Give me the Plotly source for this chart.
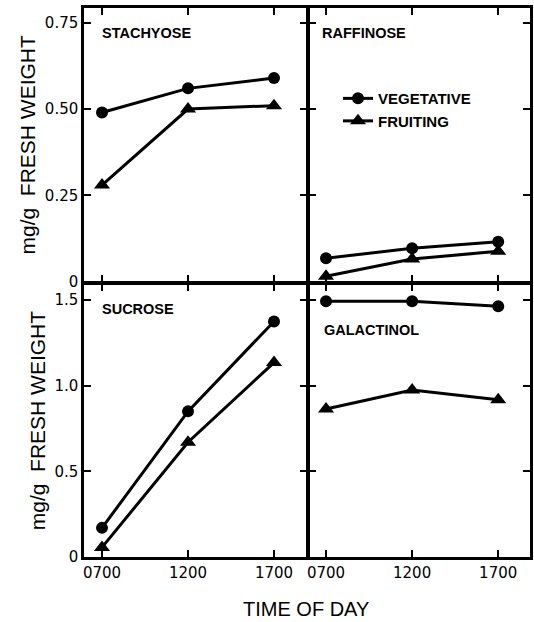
import plotly.graph_objects as go

# ---------------- data ----------------
time_hours = [7, 12, 17]
time_labels = ["0700", "1200", "1700"]

stachyose_veg = [0.49, 0.56, 0.59]
stachyose_fruit = [0.28, 0.50, 0.51]
raffinose_veg = [0.068, 0.097, 0.116]
raffinose_fruit = [0.016, 0.066, 0.088]
sucrose_veg = [0.17, 0.85, 1.375]
sucrose_fruit = [0.056, 0.67, 1.135]
galactinol_veg = [1.493, 1.493, 1.463]
galactinol_fruit = [0.864, 0.975, 0.918]

top_ticks = [0, 0.25, 0.5, 0.75]
top_ticktext = ["0", "0.25", "0.50", "0.75"]
bot_ticks = [0, 0.5, 1.0, 1.5]
bot_ticktext = ["0", "0.5", "1.0", "1.5"]

series_names = ["VEGETATIVE", "FRUITING"]
panel_names = ["STACHYOSE", "RAFFINOSE", "SUCROSE", "GALACTINOL"]

# ---------------- figure ----------------
FONT = "Liberation Sans"
TICKFONT = "DejaVu Sans"
W, H = 534, 622
ML, MR, MT, MB = 84, 4, 8, 65
PW, PH = W - ML - MR, H - MT - MB
LW = 2.5

fig = go.Figure()

panels = [
    ("x", "y", stachyose_veg, stachyose_fruit),
    ("x2", "y2", raffinose_veg, raffinose_fruit),
    ("x3", "y3", sucrose_veg, sucrose_fruit),
    ("x4", "y4", galactinol_veg, galactinol_fruit),
]
for i, (xa, ya, veg, fruit) in enumerate(panels):
    fig.add_trace(go.Scatter(
        x=time_hours, y=veg, xaxis=xa, yaxis=ya, mode="lines+markers",
        name=series_names[0], showlegend=(i == 0), legendrank=1,
        line=dict(color="black", width=3),
        marker=dict(symbol="circle", size=12, color="black"),
        cliponaxis=False))
    fig.add_trace(go.Scatter(
        x=time_hours, y=fruit, xaxis=xa, yaxis=ya, mode="lines+markers",
        name=series_names[1], showlegend=(i == 0), legendrank=2,
        line=dict(color="black", width=3),
        marker=dict(symbol="triangle-up", size=14, color="black"),
        cliponaxis=False))

# divider positions (pixels) where the shared lines should be centred
div_x, div_y = 308, 283
left_end = (div_x - LW / 2 - ML) / PW
right_start = (div_x + LW / 2 - ML) / PW
top_start = (H - MB - (div_y - LW / 2)) / PH
bot_end = (H - MB - (div_y + LW / 2)) / PH

axis_common = dict(showline=True, linecolor="black", linewidth=LW,
                   ticks="inside", ticklen=7, tickwidth=2, tickcolor="black",
                   mirror="ticks", showgrid=False, zeroline=False,
                   automargin=False,
                   tickfont=dict(family=TICKFONT, size=15, color="black"))

xr_left = [5.953, 18.904]
xr_right = [6.026, 18.846]
yr_top = [0, 0.7927]
yr_bot = [0, 1.592]

ytitle = dict(text="mg/g  FRESH WEIGHT", standoff=4,
              font=dict(family=FONT, size=21, color="black"))

fig.update_layout(
    xaxis=dict(domain=[0, left_end], anchor="y", range=xr_left,
               tickvals=time_hours, showticklabels=False, **axis_common),
    yaxis=dict(domain=[top_start, 1], anchor="x", range=yr_top,
               tickvals=top_ticks, ticktext=top_ticktext, title=ytitle,
               **axis_common),
    xaxis2=dict(domain=[right_start, 1], anchor="y2", range=xr_right,
                tickvals=time_hours, showticklabels=False, **axis_common),
    yaxis2=dict(domain=[top_start, 1], anchor="x2", range=yr_top,
                tickvals=top_ticks, showticklabels=False, **axis_common),
    xaxis3=dict(domain=[0, left_end], anchor="y3", range=xr_left,
                tickvals=time_hours, ticktext=time_labels, **axis_common),
    yaxis3=dict(domain=[0, bot_end], anchor="x3", range=yr_bot,
                tickvals=bot_ticks, ticktext=bot_ticktext, title=ytitle,
                **axis_common),
    xaxis4=dict(domain=[right_start, 1], anchor="y4", range=xr_right,
                tickvals=time_hours, ticktext=time_labels, **axis_common),
    yaxis4=dict(domain=[0, bot_end], anchor="x4", range=yr_bot,
                tickvals=bot_ticks, showticklabels=False, **axis_common),
)

# panel labels
label_pos = [("x domain", "y domain", 0.072, 0.91),
             ("x2 domain", "y2 domain", 0.05, 0.91),
             ("x3 domain", "y3 domain", 0.072, 0.91),
             ("x4 domain", "y4 domain", 0.058, 0.832)]
for name, (xr, yr, px, py) in zip(panel_names, label_pos):
    fig.add_annotation(text="<b>" + name + "</b>", xref=xr, yref=yr,
                       x=px, y=py, xanchor="left", yanchor="middle",
                       showarrow=False,
                       font=dict(family=FONT, size=14.5, color="black"))

fig.add_annotation(text="TIME OF DAY", xref="paper", yref="paper",
                   x=0.497, y=-MB / PH,
                   xanchor="center", yanchor="bottom", showarrow=False,
                   font=dict(family=FONT, size=20, color="black"))

fig.update_layout(
    width=W, height=H,
    margin=dict(l=ML, r=MR, t=MT, b=MB),
    paper_bgcolor="white", plot_bgcolor="white",
    showlegend=True,
    legend=dict(x=0.5695, y=0.865, xanchor="left", yanchor="top",
                bgcolor="rgba(0,0,0,0)", borderwidth=0,
                font=dict(family=FONT, size=15, color="black", weight="bold"),
                tracegroupgap=0, itemwidth=30),
)

fig.write_html("out.html",
               config={"displayModeBar": False},
               post_script="document.body.style.margin='0';")
